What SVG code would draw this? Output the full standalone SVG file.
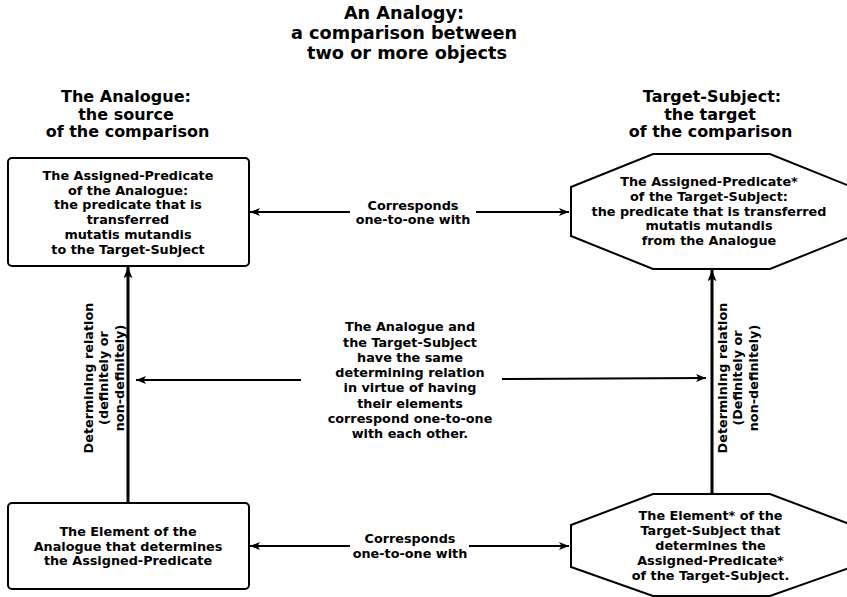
<svg xmlns="http://www.w3.org/2000/svg" width="847" height="597" viewBox="0 0 847 597">
<style>
text{font-family:"DejaVu Sans","Liberation Sans",sans-serif;font-weight:bold;fill:#000;text-anchor:middle}
.t{font-size:17.7px}
.h{font-size:16px}
.n{font-size:12.8px}
.box{fill:#fff;stroke:#000;stroke-width:2}
.ln{fill:none;stroke:#000;stroke-width:2}
.vl{fill:none;stroke:#000;stroke-width:3}
</style>
<defs>
<marker id="ah" viewBox="0 0 10 8" refX="10" refY="4" markerWidth="10" markerHeight="8" markerUnits="userSpaceOnUse" orient="auto-start-reverse">
<path d="M0,0 L10,4 L0,8 L2.5,4 z" fill="#000"/>
</marker>
<marker id="av" viewBox="0 0 10 8" refX="10" refY="4" markerWidth="12" markerHeight="9" markerUnits="userSpaceOnUse" orient="auto">
<path d="M0,0 L10,4 L0,8 L2.5,4 z" fill="#000"/>
</marker>
</defs>
<g id="title">
<text class="t"><tspan x="404" y="19">An Analogy:</tspan><tspan x="404" y="39">a comparison between</tspan><tspan x="407" y="58.5">two or more objects</tspan></text>
</g>
<g id="header-left">
<text class="h"><tspan x="126" y="102">The Analogue:</tspan><tspan x="126" y="119.5">the source</tspan><tspan x="127.5" y="137">of the comparison</tspan></text>
</g>
<g id="header-right">
<text class="h"><tspan x="712" y="102">Target-Subject:</tspan><tspan x="710" y="119.5">the target</tspan><tspan x="710.5" y="137">of the comparison</tspan></text>
</g>
<g id="connectors">
<line class="ln" x1="350" y1="212" x2="250" y2="212" marker-end="url(#ah)"/>
<line class="ln" x1="476" y1="212" x2="569" y2="212" marker-end="url(#ah)"/>
<line class="ln" x1="350" y1="546" x2="250" y2="546" marker-end="url(#ah)"/>
<line class="ln" x1="469" y1="546" x2="569" y2="546" marker-end="url(#ah)"/>
<line class="ln" x1="301" y1="380" x2="136" y2="380" marker-end="url(#ah)"/>
<line class="ln" x1="502" y1="379" x2="706" y2="378" marker-end="url(#ah)"/>
<line class="vl" x1="128" y1="503" x2="128" y2="267" marker-end="url(#av)"/>
<line class="vl" x1="712" y1="494" x2="712" y2="270" marker-end="url(#av)"/>
<text class="n"><tspan x="413" y="209.5">Corresponds</tspan><tspan x="413" y="223.5">one-to-one with</tspan></text>
<text class="n"><tspan x="410" y="543">Corresponds</tspan><tspan x="410" y="557.5">one-to-one with</tspan></text>
<text class="n"><tspan x="410" y="331.3">The Analogue and</tspan><tspan x="410" y="346.5">the Target-Subject</tspan><tspan x="410" y="361.8">have the same</tspan><tspan x="410" y="377">determining relation</tspan><tspan x="410" y="392.3">in virtue of having</tspan><tspan x="410" y="407.5">their elements</tspan><tspan x="410" y="422.8">correspond one-to-one</tspan><tspan x="410" y="438">with each other.</tspan></text>
<text class="n" transform="rotate(-90)"><tspan x="-378" y="92.5">Determining relation</tspan><tspan x="-378" y="108">(definitely or</tspan><tspan x="-378" y="123.5">non-definitely)</tspan></text>
<text class="n" transform="rotate(-90)"><tspan x="-378" y="726.5">Determining relation</tspan><tspan x="-378" y="742">(Definitely or</tspan><tspan x="-378" y="757.5">non-definitely)</tspan></text>
</g>
<g id="node-analogue-predicate">
<rect class="box" x="8" y="158" width="241" height="108" rx="4"/>
<text class="n"><tspan x="128" y="179.7">The Assigned-Predicate</tspan><tspan x="128" y="194.5">of the Analogue:</tspan><tspan x="128" y="209.3">the predicate that is</tspan><tspan x="128" y="224">transferred</tspan><tspan x="128" y="238.8">mutatis mutandis</tspan><tspan x="128" y="253.6">to the Target-Subject</tspan></text>
</g>
<g id="node-target-predicate">
<polygon class="box" points="653,154 770,154 852,187 852,236 770,269 653,269 571,236 571,187"/>
<text class="n"><tspan x="709" y="186.3">The Assigned-Predicate*</tspan><tspan x="709" y="200.8">of the Target-Subject:</tspan><tspan x="709" y="215.5">the predicate that is transferred</tspan><tspan x="709" y="230.2">mutatis mutandis</tspan><tspan x="709" y="244.8">from the Analogue</tspan></text>
</g>
<g id="node-analogue-element">
<rect class="box" x="8" y="503" width="241" height="86" rx="4"/>
<text class="n"><tspan x="128" y="536.3">The Element of the</tspan><tspan x="128" y="550.5">Analogue that determines</tspan><tspan x="128" y="564.7">the Assigned-Predicate</tspan></text>
</g>
<g id="node-target-element">
<polygon class="box" points="653,494 770,494 852,525 852,567 770,596 653,596 571,567 571,525"/>
<text class="n"><tspan x="710.5" y="519.6">The Element* of the</tspan><tspan x="710.5" y="534.6">Target-Subject that</tspan><tspan x="710.5" y="549.6">determines the</tspan><tspan x="710.5" y="564.6">Assigned-Predicate*</tspan><tspan x="710.5" y="579.6">of the Target-Subject.</tspan></text>
</g>
</svg>
